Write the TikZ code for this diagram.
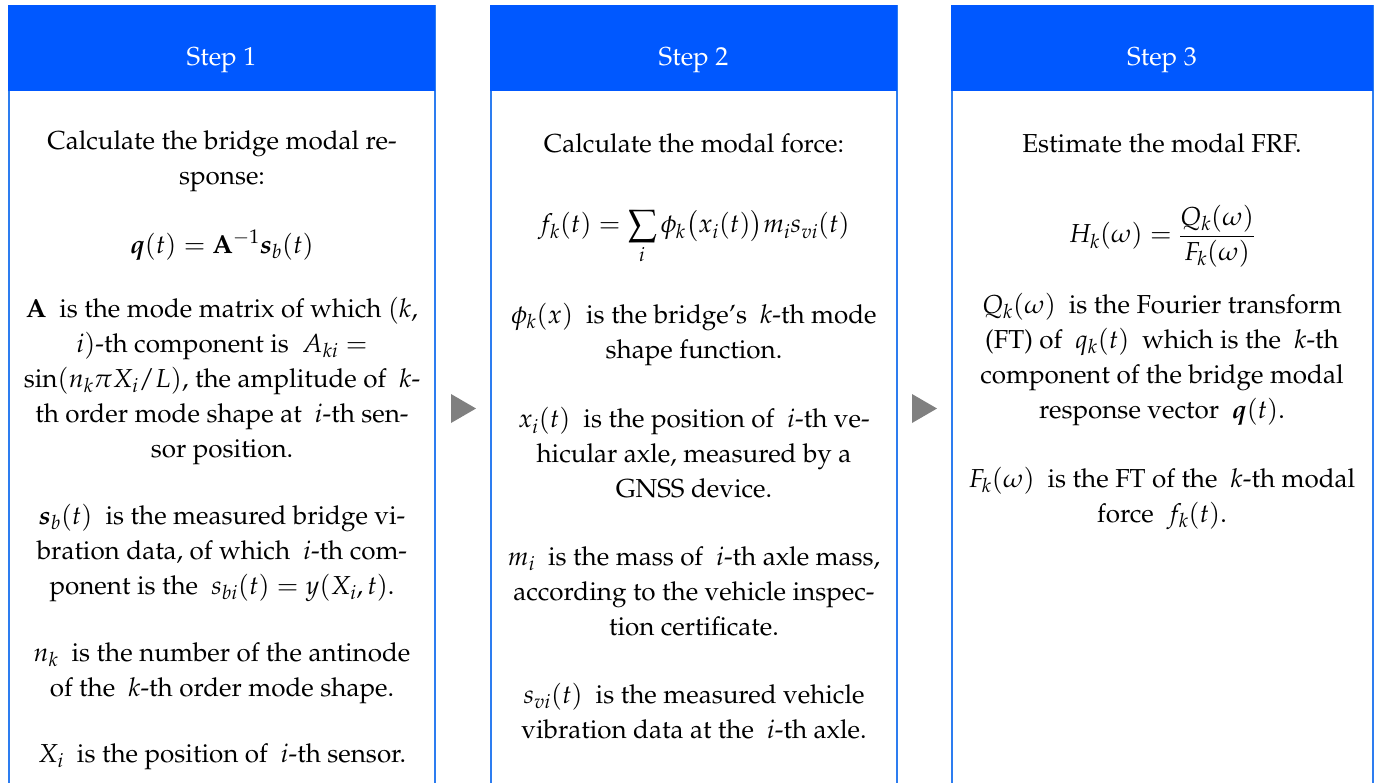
\documentclass[tikz,border=0pt]{standalone}
\usepackage[T1]{fontenc}
\usepackage{mathpazo}
\usepackage{amsmath}
\usepackage{bm}
\definecolor{hdrblue}{RGB}{0,88,255}
\definecolor{bordblue}{RGB}{45,125,240}
\definecolor{arrgray}{RGB}{128,128,128}
\tikzset{
  boxnode/.style={draw=bordblue, line width=2pt, rectangle, outer sep=0pt, inner sep=0pt, anchor=north west, minimum height=820pt},
  headnode/.style={fill=hdrblue, rectangle, outer sep=0pt, inner sep=0pt, anchor=north west, minimum height=86pt, text=white, font=\fontsize{26}{35}\selectfont},
  txt/.style={align=center, inner sep=0pt, font=\fontsize{26}{35}\selectfont},
  tri/.style={fill=arrgray}
}
\newcommand{\hdrtext}[1]{\raisebox{-12pt}[\height][\depth]{#1}}
\begin{document}
\begin{tikzpicture}[x=1pt,y=-1pt]
\useasboundingbox (0,0) rectangle (1378,782);
% boxes
\node[boxnode, minimum width=426pt] (box1) at (9,6) {};
\node[boxnode, minimum width=406pt] (box2) at (491,6) {};
\node[boxnode, minimum width=421pt] (box3) at (952,6) {};
\node[headnode, minimum width=427pt] (head1) at (8,5) {\hdrtext{Step 1}};
\node[headnode, minimum width=407pt] (head2) at (490,5) {\hdrtext{Step 2}};
\node[headnode, minimum width=422pt] (head3) at (951,5) {\hdrtext{Step 3}};
% arrows
\fill[tri] (451,394) -- (476,408.5) -- (451,423) -- cycle;
\fill[tri] (912,394) -- (937,408.5) -- (912,423) -- cycle;
% Step 1
\node[txt] (s1a) at (222,161) {Calculate the bridge modal re-\\sponse:};
\node[txt] (s1f) at (222,245) {$\bm{q}(t)=\mathbf{A}^{-1}\bm{s}_b(t)$};
\node[txt] (s1b) at (222,381) {$\mathbf{A}$\ \ is the mode matrix of which $(k$,\\
$i)$-th component is\ \ $A_{ki}=$\\
$\sin(n_k\pi X_i/L)$, the amplitude of\ \ $k$-\\
th order mode shape at\ \ $i$-th sen-\\
sor position.};
\node[txt] (s1c) at (222,553) {$\bm{s}_b(t)$\ \ is the measured bridge vi-\\
bration data, of which\ \ $i$-th com-\\
ponent is the\ \ $s_{bi}(t)=y(X_i,t)$.};
\node[txt] (s1d) at (222,673) {$n_k$\ \ is the number of the antinode\\
of the\ \ $k$-th order mode shape.};
\node[txt] (s1e) at (222,757) {$X_i$\ \ is the position of\ \ $i$-th sensor.};
% Step 2
\node[txt] (s2a) at (694,143) {Calculate the modal force:};
\node[txt] (s2f) at (694,237) {$\displaystyle f_k(t)=\sum_i \phi_k\bigl(x_i(t)\bigr)m_i s_{vi}(t)$};
\node[txt] (s2b) at (694,334) {$\phi_k(x)$\ \ is the bridge's\ \ $k$-th mode\\
shape function.};
\node[txt] (s2c) at (694,453) {$x_i(t)$\ \ is the position of\ \ $i$-th ve-\\
hicular axle, measured by a\\
GNSS device.};
\node[txt] (s2d) at (694,591) {$m_i$\ \ is the mass of\ \ $i$-th axle mass,\\
according to the vehicle inspec-\\
tion certificate.};
\node[txt] (s2e) at (694,711) {$s_{vi}(t)$\ \ is the measured vehicle\\
vibration data at the\ \ $i$-th axle.};
% Step 3
\node[txt] (s3a) at (1162,143) {Estimate the modal FRF.};
\node[txt] (s3f) at (1162,236) {$\displaystyle H_k(\omega)=\frac{Q_k(\omega)}{F_k(\omega)}$};
\node[txt] (s3b) at (1162,359) {$Q_k(\omega)$\ \ is the Fourier transform\\
(FT) of\ \ $q_k(t)$\ \ which is the\ \ $k$-th\\
component of the bridge modal\\
response vector\ \ $\bm{q}(t)$.};
\node[txt] (s3c) at (1162,498) {$F_k(\omega)$\ \ is the FT of the\ \ $k$-th modal\\
force\ \ $f_k(t)$.};
\end{tikzpicture}
\end{document}
